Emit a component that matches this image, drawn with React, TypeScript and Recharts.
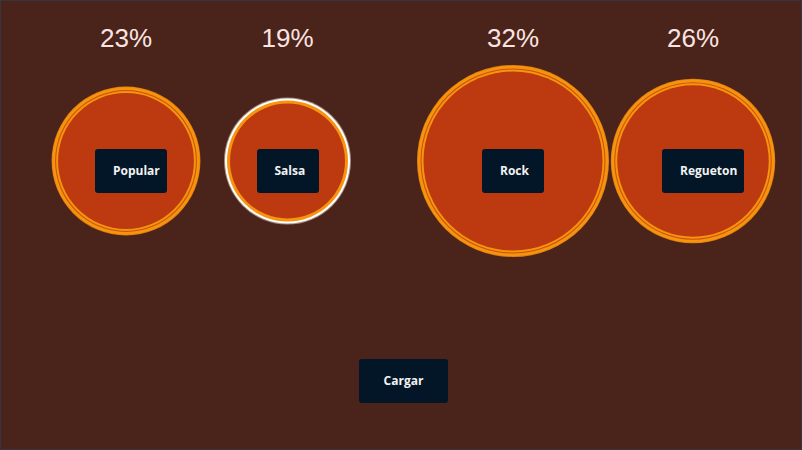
import { Scatter, ScatterChart, XAxis, YAxis, ZAxis } from "recharts";

// datos de la encuesta
const generos = ["Popular", "Salsa", "Rock", "Regueton"];
const porcentajes = [23, 19, 32, 26];
const posiciones = [1.25, 2.865, 5.12, 6.92];
const generoActivo = "Salsa";

const data = generos.map((genero, i) => ({
  genero,
  porcentaje: porcentajes[i],
  x: posiciones[i],
  y: 1,
}));

const fondo = "#4a231b";
const relleno = "#bd3a10";
const naranja = "#f7930f";
const boton = "#031627";

function Burbuja(props: any) {
  const { cx, cy, width, payload } = props;
  const r = width / 2;
  const activo = payload.genero === generoActivo;
  return (
    <g>
      <text
        x={cx}
        y={46}
        textAnchor="middle"
        fontFamily="'Liberation Sans', Arial, sans-serif"
        fontSize={26}
        fill="#fbe4e0"
      >
        {payload.porcentaje}%
      </text>
      {activo ? (
        <>
          <circle cx={cx} cy={cy} r={r + 1} fill="#fff3e6" opacity={0.5} />
          <circle cx={cx} cy={cy} r={r} fill="#ffffff" />
          <circle cx={cx} cy={cy} r={r - 2} fill={naranja} />
          <circle cx={cx} cy={cy} r={r - 5} fill={relleno} />
        </>
      ) : (
        <>
          <circle cx={cx} cy={cy} r={r} fill="#e0800c" />
          <circle cx={cx} cy={cy} r={r - 0.8} fill={naranja} />
          <circle cx={cx} cy={cy} r={r - 3.5} fill="#c4540c" />
          <circle cx={cx} cy={cy} r={r - 4.5} fill={naranja} />
          <circle cx={cx} cy={cy} r={r - 6.5} fill={relleno} />
        </>
      )}
      <foreignObject x={cx - 31} y={cy - 12} width={140} height={44}>
        <div
          style={{
            display: "inline-block",
            boxSizing: "border-box",
            height: 44,
            minWidth: 62,
            lineHeight: "44px",
            padding: "0 7px 0 18px",
            background: boton,
            borderRadius: 3,
            color: "#f2f2f2",
            fontFamily: "'Open Sans', sans-serif",
            fontWeight: 700,
            fontSize: 12,
            whiteSpace: "nowrap",
          }}
        >
          {payload.genero}
        </div>
      </foreignObject>
    </g>
  );
}

export default function App() {
  return (
    <div
      style={{
        position: "relative",
        width: 802,
        height: 450,
        boxSizing: "border-box",
        border: "1px solid #3b3440",
        background: fondo,
      }}
    >
      <style>{`body{margin:0}`}</style>
      <ScatterChart
        width={800}
        height={448}
        margin={{ top: 0, right: 0, bottom: 128, left: 0 }}
      >
        <XAxis type="number" dataKey="x" domain={[0, 8]} hide />
        <YAxis type="number" dataKey="y" domain={[0, 2]} hide />
        <ZAxis
          type="number"
          dataKey="porcentaje"
          domain={["dataMin", "dataMax"]}
          range={[12272, 28953]}
        />
        <Scatter data={data} shape={<Burbuja />} isAnimationActive={false} />
      </ScatterChart>
      <div
        style={{
          position: "absolute",
          left: 358,
          top: 358,
          width: 89,
          height: 44,
          lineHeight: "44px",
          textAlign: "center",
          background: boton,
          borderRadius: 3,
          color: "#f2f2f2",
          fontFamily: "'Open Sans', sans-serif",
          fontWeight: 700,
          fontSize: 12,
        }}
      >
        Cargar
      </div>
    </div>
  );
}
